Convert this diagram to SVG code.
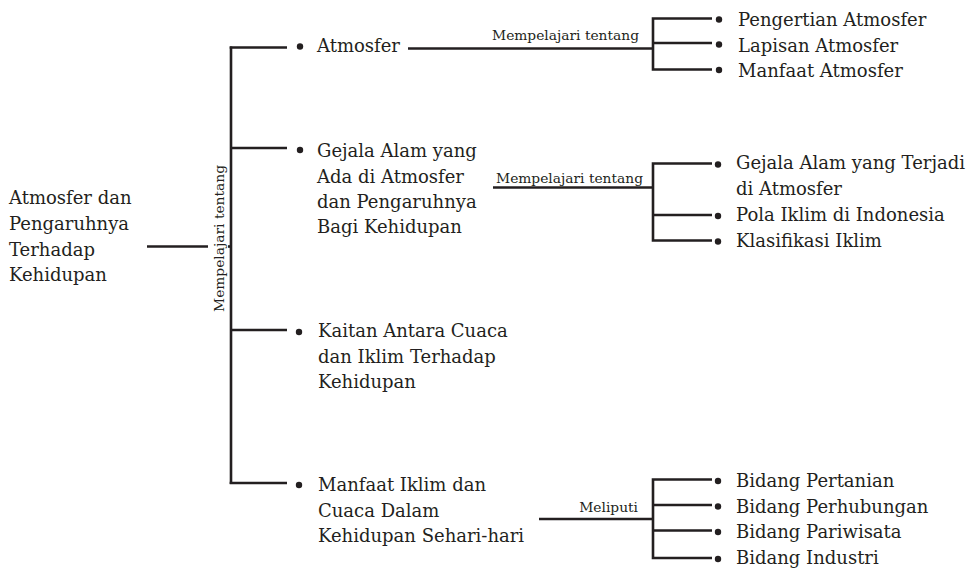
<svg xmlns="http://www.w3.org/2000/svg" width="974" height="569" viewBox="0 0 974 569">
<style>
  .t { font-family: "DejaVu Serif", "Liberation Serif", serif; font-size: 18px; fill: #231f20; }
  .s { font-family: "DejaVu Serif", "Liberation Serif", serif; font-size: 13.8px; fill: #231f20; }
  .c { stroke: #231f20; stroke-width: 2.6; fill: none; stroke-linecap: butt; }
  .b { fill: #231f20; }
</style>
<rect width="974" height="569" fill="#ffffff"/>

<g id="connectors">
  <!-- root to main bracket -->
  <path class="c" d="M147 246.5 H208"/>
  <path class="c" d="M228 246.5 H231"/>
  <path class="c" d="M231 46.5 V484"/>
  <path class="c" d="M229.7 47.5 H287 M231 148 H287 M231 330 H287 M229.7 483 H287"/>
  <!-- Atmosfer subtree -->
  <path class="c" d="M408 48.5 H653"/>
  <path class="c" d="M712 18.5 H653 V69.5 H712 M653 43 H712"/>
  <!-- Gejala subtree -->
  <path class="c" d="M493 187.5 H653"/>
  <path class="c" d="M712 163.5 H653 V240.5 H712 M653 215 H712"/>
  <!-- Manfaat subtree -->
  <path class="c" d="M539 519 H653"/>
  <path class="c" d="M712 479.5 H653 V558 H712 M653 505 H712 M653 530.5 H712"/>
  <text class="s" transform="translate(223.5 238.5) rotate(-90)" text-anchor="middle">Mempelajari tentang</text>
  <text class="s" x="639" y="39.5" text-anchor="end">Mempelajari tentang</text>
  <text class="s" x="643" y="183" text-anchor="end">Mempelajari tentang</text>
  <text class="s" x="638" y="512" text-anchor="end">Meliputi</text>
</g>

<g id="root">
  <text class="t" x="9" y="204">Atmosfer dan</text>
  <text class="t" x="9" y="230">Pengaruhnya</text>
  <text class="t" x="9" y="256">Terhadap</text>
  <text class="t" x="9" y="281">Kehidupan</text>
</g>

<g id="n-atmosfer">
  <circle class="b" cx="300" cy="46.5" r="3.2"/>
  <text class="t" x="317" y="52">Atmosfer</text>
</g>

<g id="n-gejala">
  <circle class="b" cx="300" cy="150" r="3.2"/>
  <text class="t" x="317" y="157">Gejala Alam yang</text>
  <text class="t" x="317" y="182.5">Ada di Atmosfer</text>
  <text class="t" x="317" y="208">dan Pengaruhnya</text>
  <text class="t" x="317" y="233">Bagi Kehidupan</text>
</g>

<g id="n-kaitan">
  <circle class="b" cx="299" cy="332" r="3.2"/>
  <text class="t" x="318" y="337">Kaitan Antara Cuaca</text>
  <text class="t" x="318" y="363">dan Iklim Terhadap</text>
  <text class="t" x="318" y="388">Kehidupan</text>
</g>

<g id="n-manfaat">
  <circle class="b" cx="299" cy="485" r="3.2"/>
  <text class="t" x="318" y="491">Manfaat Iklim dan</text>
  <text class="t" x="318" y="517">Cuaca Dalam</text>
  <text class="t" x="318" y="542">Kehidupan Sehari-hari</text>
</g>

<g id="n-pengertian">
  <circle class="b" cx="719" cy="19.5" r="3.2"/>
  <text class="t" x="738" y="26">Pengertian Atmosfer</text>
</g>
<g id="n-lapisan">
  <circle class="b" cx="719" cy="44.5" r="3.2"/>
  <text class="t" x="738" y="51.5">Lapisan Atmosfer</text>
</g>
<g id="n-manfaat-atm">
  <circle class="b" cx="719" cy="70" r="3.2"/>
  <text class="t" x="738" y="77">Manfaat Atmosfer</text>
</g>

<g id="n-gejala-terjadi">
  <circle class="b" cx="718" cy="164.5" r="3.2"/>
  <text class="t" x="736" y="169">Gejala Alam yang Terjadi</text>
  <text class="t" x="736" y="195">di Atmosfer</text>
</g>
<g id="n-pola">
  <circle class="b" cx="718" cy="216" r="3.2"/>
  <text class="t" x="736" y="221">Pola Iklim di Indonesia</text>
</g>
<g id="n-klasifikasi">
  <circle class="b" cx="718" cy="241.5" r="3.2"/>
  <text class="t" x="736" y="246.5">Klasifikasi Iklim</text>
</g>

<g id="n-pertanian">
  <circle class="b" cx="718" cy="481" r="3.2"/>
  <text class="t" x="736" y="487">Bidang Pertanian</text>
</g>
<g id="n-perhubungan">
  <circle class="b" cx="718" cy="506.5" r="3.2"/>
  <text class="t" x="736" y="513">Bidang Perhubungan</text>
</g>
<g id="n-pariwisata">
  <circle class="b" cx="718" cy="532" r="3.2"/>
  <text class="t" x="736" y="538">Bidang Pariwisata</text>
</g>
<g id="n-industri">
  <circle class="b" cx="718" cy="559" r="3.2"/>
  <text class="t" x="736" y="563.5">Bidang Industri</text>
</g>
</svg>
